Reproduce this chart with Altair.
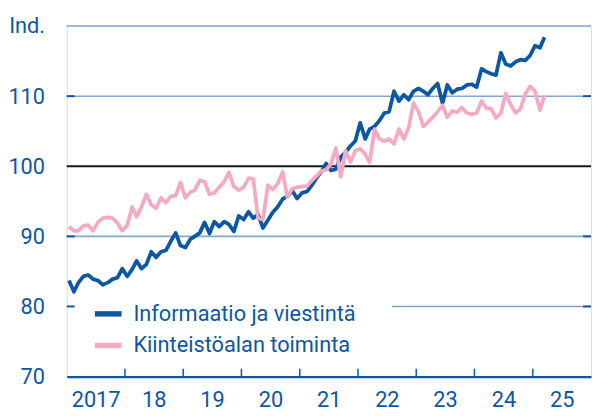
import altair as alt
import pandas as pd

# ---- data (monthly index, Jan 2017 – Mar 2025) ----
info = [83.7, 82.1, 83.4, 84.3, 84.5, 83.9, 83.7, 83.1, 83.4, 83.9,
        84.1, 85.4, 84.3, 85.3, 86.5, 85.4, 86.0, 87.8, 87.0, 87.8,
        88.0, 89.3, 90.5, 88.7, 88.4, 89.6, 90.0, 90.5, 92.0, 90.4,
        92.1, 91.4, 92.1, 91.7, 90.7, 92.9, 92.4, 93.5, 92.6, 93.1,
        91.2, 92.3, 93.4, 94.2, 95.3, 95.7, 96.5, 95.4, 96.2, 96.4,
        97.2, 98.3, 99.2, 100.4, 99.4, 99.6, 101.3, 102.0, 102.9, 103.6,
        106.2, 103.9, 105.3, 105.7, 106.5, 107.6, 107.8, 110.7, 109.3, 110.2,
        109.5, 110.7, 111.1, 110.7, 110.2, 111.1, 111.8, 109.0, 111.6, 110.5,
        111.0, 111.1, 111.6, 111.7, 111.3, 113.9, 113.5, 113.2, 113.0, 116.2,
        114.6, 114.3, 114.9, 115.2, 115.1, 115.8, 117.2, 116.9, 118.4]
kiint = [91.4, 90.8, 90.8, 91.5, 91.6, 90.8, 92.0, 92.6, 92.7, 92.6,
         91.9, 90.8, 91.6, 94.2, 92.8, 94.2, 96.0, 94.5, 94.0, 95.5,
         94.8, 95.7, 95.8, 97.7, 95.5, 96.3, 96.6, 98.0, 97.8, 96.0,
         96.2, 97.0, 97.8, 99.1, 97.1, 96.6, 97.0, 98.3, 98.2, 92.6,
         92.4, 97.3, 96.7, 97.5, 99.2, 95.6, 96.8, 97.0, 97.1, 97.2,
         97.9, 98.6, 99.3, 99.5, 100.3, 102.6, 98.5, 102.2, 100.6, 102.2,
         102.5, 101.7, 100.6, 105.3, 103.9, 103.6, 103.9, 103.2, 105.3, 103.9,
         105.5, 109.0, 107.8, 105.7, 106.3, 107.0, 107.8, 108.7, 107.0, 107.9,
         107.7, 108.4, 107.6, 107.4, 107.6, 109.3, 108.3, 108.2, 106.9, 107.6,
         110.4, 108.8, 107.6, 108.2, 110.3, 111.4, 110.7, 108.0, 110.1]
series_names = ["Informaatio ja viestintä", "Kiinteistöalan toiminta"]
series_colors = ["#0B57A4", "#F5A9C2"]

grid_values = [120, 110, 90, 80]
grid_start = ["2017-01-01", "2017-01-01", "2017-01-01", "2022-08-01"]
grid_end = ["2026-01-01", "2026-01-01", "2026-01-01", "2026-01-01"]
tick_values = [110, 90, 80]
year_ticks = ["2018-01-01", "2019-01-01", "2020-01-01", "2021-01-01",
              "2022-01-01", "2023-01-01", "2024-01-01", "2025-01-01"]
label_years = list(range(2017, 2026))

DARK = "#0B57A4"
LIGHT = "#7FA8D5"
FONT = "Roboto"
FS = 22

months = pd.date_range("2017-01-01", periods=len(info), freq="MS") + pd.Timedelta(days=14)
df_info = pd.DataFrame({"date": months, "value": info, "series": series_names[0]})
df_kiint = pd.DataFrame({"date": months, "value": kiint, "series": series_names[1]})
df_grid = pd.DataFrame({"y": grid_values, "date": pd.to_datetime(grid_start), "end": pd.to_datetime(grid_end)})
df_ticks = pd.DataFrame({"y": tick_values})
df_years = pd.DataFrame({"date": pd.to_datetime(year_ticks)})
df_base = pd.DataFrame({"y": [100], "date": pd.to_datetime(["2017-01-01"]), "end": pd.to_datetime(["2026-01-01"])})

xscale = alt.Scale(domain=[alt.DateTime(year=2017, month=1, date=1), alt.DateTime(year=2026, month=1, date=1)])
yscale = alt.Scale(domain=[70, 120], nice=False, zero=False)

xaxis = alt.Axis(values=[alt.DateTime(year=y, month=7, date=1) for y in label_years],
                 labelExpr="year(datum.value) == 2017 ? '2017' : timeFormat(datum.value, '%y')",
                 ticks=False, domain=True, domainColor=DARK, domainWidth=2.2, grid=False,
                 labelFontSize=FS, labelColor=DARK, labelFont=FONT, labelPadding=13,
                 title=None, labelFlush=False)
yaxis = alt.Axis(values=[70, 80, 90, 100, 110, 120],
                 labelExpr="datum.value == 120 ? 'Ind.' : datum.value",
                 ticks=False, domain=False, grid=False,
                 labelFontSize=FS, labelColor=DARK, labelFont=FONT, labelPadding=22.5,
                 title=None)

color = alt.Color("series:N",
                  scale=alt.Scale(domain=series_names, range=series_colors),
                  legend=alt.Legend(orient="none", legendX=25.5, legendY=275, title=None,
                                    symbolType="stroke", symbolSize=729, symbolStrokeWidth=5.5,
                                    labelFontSize=FS, labelColor=DARK, labelFont=FONT,
                                    labelLimit=400, labelOffset=9, rowPadding=4, padding=0))

X = alt.X("date:T", scale=xscale, axis=xaxis)

grid = alt.Chart(df_grid).mark_rule(color=LIGHT, strokeWidth=1.6).encode(
    x=X, x2="end:T", y=alt.Y("y:Q", scale=yscale, axis=yaxis))

base100 = alt.Chart(df_base).mark_rule(color="#1a1a1a", strokeWidth=2).encode(
    x=X, x2="end:T", y=alt.Y("y:Q", scale=yscale, axis=yaxis))

lticks = alt.Chart(df_ticks).mark_rule(color=DARK, strokeWidth=2).encode(
    x=alt.value(0), x2=alt.value(8), y=alt.Y("y:Q", scale=yscale, axis=yaxis))
rticks = alt.Chart(df_ticks).mark_rule(color=DARK, strokeWidth=2).encode(
    x=alt.value(523), x2=alt.value(531), y=alt.Y("y:Q", scale=yscale, axis=yaxis))
xticks = alt.Chart(df_years).mark_rule(color=DARK, strokeWidth=1.5).encode(
    x=X, y=alt.value(347), y2=alt.value(355))

line_info = alt.Chart(df_info).mark_line(strokeWidth=3.8, strokeJoin="round").encode(
    x=X, y=alt.Y("value:Q", scale=yscale, axis=yaxis), color=color)
line_kiint = alt.Chart(df_kiint).mark_line(strokeWidth=3.8, strokeJoin="round").encode(
    x=X, y=alt.Y("value:Q", scale=yscale, axis=yaxis), color=color)

chart = alt.layer(grid, base100, lticks, rticks, xticks, line_info, line_kiint).properties(
    width=531, height=355,
    autosize=alt.AutoSizeParams(type="none"),
    padding={"left": 59.5, "top": 15.7, "right": 2, "bottom": 36},
).configure_view(stroke=None).configure(background="white")

chart.save("out.html", embed_options={"renderer": "svg", "actions": False})
